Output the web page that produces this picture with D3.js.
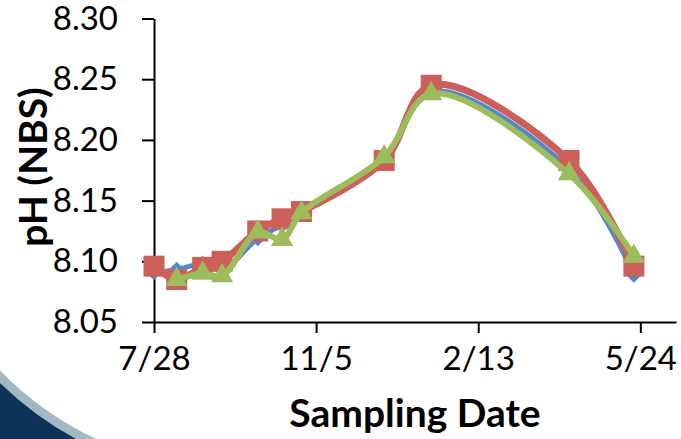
<!DOCTYPE html>
<meta charset="utf-8">
<style>
  body { margin: 0; background: #fff; }
  svg { display: block; font-family: Lato, "Open Sans", sans-serif; }
  .axis path, .axis line { stroke: #000; stroke-width: 2px; }
  .axis text { font-size: 33px; fill: #000; }
  .title { font-weight: bold; font-size: 39px; }
</style>
<body>
  <div id="chart"></div>

  <script src="https://d3js.org/d3.v7.min.js"></script>
  <script>
    // sampling dates (2010-2011 season)
    var dates = ["2010-07-28", "2010-08-11", "2010-08-27", "2010-09-08", "2010-09-30",
      "2010-10-15", "2010-10-27", "2010-12-17", "2011-01-15", "2011-04-10", "2011-05-20"];

    var blueVals = [8.091, 8.093, 8.098, 8.093, 8.119, 8.130, 8.142, 8.185, 8.240, 8.176, 8.089];
    var redVals = [8.096, 8.085, 8.095, 8.100, 8.125, 8.135, 8.141, 8.183, 8.245, 8.183, 8.096];
    // no green value on the first date
    var greenVals = [null, 8.085, 8.090, 8.088, 8.124, 8.118, 8.140, 8.186, 8.238, 8.172, 8.104];

    var xTicks = ["2010-07-28", "2010-11-05", "2011-02-13", "2011-05-24"];
    var xEnd = "2011-06-15";
    var yTicks = [8.05, 8.10, 8.15, 8.20, 8.25, 8.30];

    var parse = d3.utcParse("%Y-%m-%d");

    var W = 681, H = 439;
    var margin = { top: 18.5, right: 5, bottom: 117, left: 154 };

    var svg = d3.select("#chart").append("svg")
      .attr("width", W)
      .attr("height", H);

    // slide background corner (decoration)
    svg.append("path")
      .attr("d", "M0,370.5 A331,331 0 0 0 96,439 L0,439 Z")
      .attr("fill", "#a2b9c4");
    svg.append("path")
      .attr("d", "M0,383 A340,340 0 0 0 76,439 L0,439 Z")
      .attr("fill", "#0d3456");

    var x = d3.scaleUtc()
      .domain([parse(xTicks[0]), parse(xEnd)])
      .range([margin.left, W - margin.right]);

    var y = d3.scaleLinear()
      .domain([8.05, 8.30])
      .range([H - margin.bottom, margin.top]);

    var xAxis = d3.axisBottom(x)
      .tickValues(xTicks.map(parse))
      .tickFormat(d3.utcFormat("%-m/%-d"))
      .tickSizeInner(11)
      .tickSizeOuter(0)
      .tickPadding(14);

    var yAxis = d3.axisLeft(y)
      .tickValues(yTicks)
      .tickFormat(d3.format(".2f"))
      .tickSizeInner(12)
      .tickSizeOuter(0)
      .tickPadding(24);

    svg.append("g")
      .attr("class", "axis")
      .attr("transform", "translate(0," + (H - margin.bottom) + ")")
      .call(xAxis);

    svg.append("g")
      .attr("class", "axis")
      .attr("transform", "translate(" + margin.left + ",0)")
      .call(yAxis);

    svg.selectAll(".axis").attr("font-size", null).attr("font-family", null);

    svg.append("text")
      .attr("class", "title")
      .attr("x", (margin.left + W - margin.right) / 2)
      .attr("y", 427)
      .attr("text-anchor", "middle")
      .text("Sampling Date");

    svg.append("text")
      .attr("class", "title")
      .attr("transform", "translate(47," + 167 + ") rotate(-90)")
      .attr("text-anchor", "middle")
      .text("pH (NBS)");

    var series = [
      { name: "blue", vals: blueVals, color: "#4f8acd", width: 5, shape: "diamond" },
      { name: "red", vals: redVals, color: "#cd5f5a", width: 7, shape: "square" },
      { name: "green", vals: greenVals, color: "#9dbd5c", width: 6, shape: "triangle" }
    ];

    var line = d3.line()
      .defined(function (d) { return d.v != null; })
      .x(function (d) { return x(d.date); })
      .y(function (d) { return y(d.v); })
      .curve(d3.curveCatmullRom.alpha(0.5));

    var shapes = {
      diamond: { type: d3.symbolSquare, size: 130, rotate: 45 },
      square: { type: d3.symbolSquare, size: 441, rotate: 0 },
      triangle: { type: d3.symbolTriangle, size: 215, rotate: 0 }
    };

    series.forEach(function (s) {
      var pts = s.vals.map(function (v, i) {
        return { date: parse(dates[i]), v: v };
      }).filter(function (d) { return d.v != null; });

      var g = svg.append("g").attr("class", "series " + s.name);

      g.append("path")
        .datum(pts)
        .attr("fill", "none")
        .attr("stroke", s.color)
        .attr("stroke-width", s.width)
        .attr("stroke-linejoin", "round")
        .attr("d", line);

      var sh = shapes[s.shape];
      g.selectAll(".mark")
        .data(pts)
        .enter()
        .append("path")
        .attr("class", "mark")
        .attr("fill", s.color)
        .attr("d", d3.symbol().type(sh.type).size(sh.size))
        .attr("transform", function (d) {
          return "translate(" + x(d.date) + "," + y(d.v) + ") rotate(" + sh.rotate + ")";
        });
    });
  </script>
</body>
